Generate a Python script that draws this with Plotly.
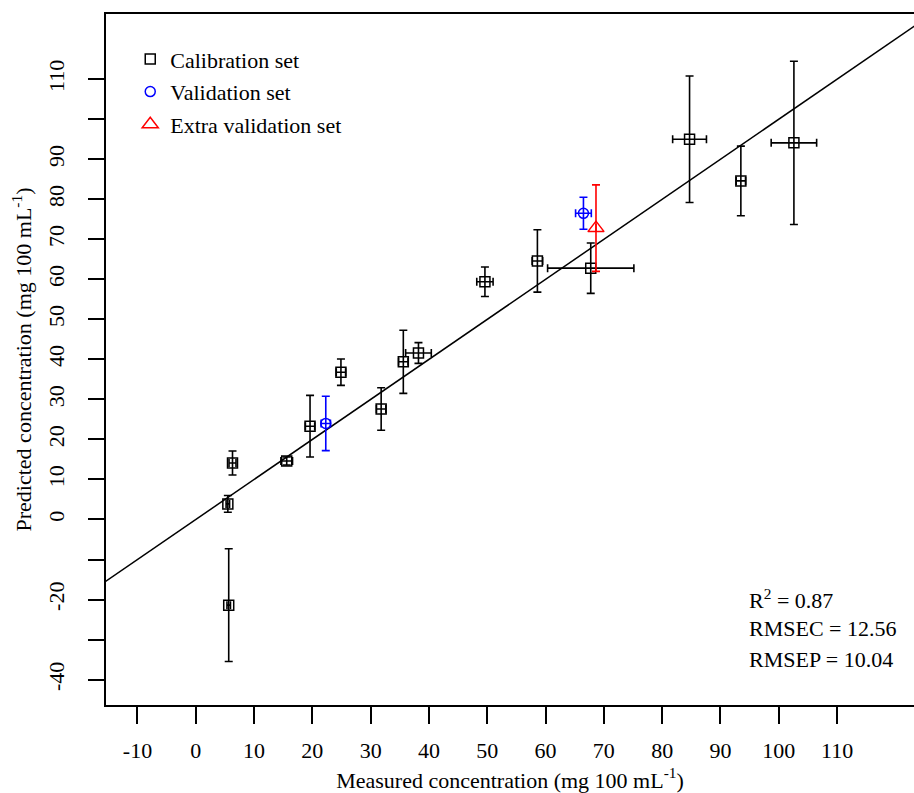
import plotly.graph_objects as go

# Calibration set
cal_x = [5.5, 6.3, 5.65, 15.6, 19.6, 24.9, 31.8, 35.6, 38.2, 49.6, 58.6, 67.75, 84.7, 93.5, 102.6]
cal_y = [3.9, 14.1, -21.4, 14.6, 23.3, 36.8, 27.6, 39.4, 41.6, 59.4, 64.6, 62.8, 95.0, 84.6, 94.1]
cal_yerr = [2.1, 3.0, 14.1, 1.0, 7.7, 3.3, 5.3, 7.9, 2.6, 3.7, 7.8, 6.3, 15.8, 8.7, 20.4]
cal_xerr = [0.3, 0.6, 0.3, 1.0, 0.8, 0.8, 0.8, 0.8, 2.2, 1.4, 0.9, 7.4, 2.9, 0.8, 3.9]

# Validation set
val_x = [22.3, 66.5]
val_y = [24.0, 76.5]
val_yerr = [6.8, 4.0]
val_xerr = [0.8, 1.35]

# Extra validation set
ext_x = [68.65]
ext_y = [72.8]
ext_yerr = [10.8]
ext_xerr = [0.0]

# 1:1 line
line_x = [-20, 130]
line_y = [-20, 130]

x_ticks = list(range(-10, 111, 10))
y_ticks = [-40, -20, 0, 10, 20, 30, 40, 50, 60, 70, 80, 90, 110]
y_minor_ticks = [-30, -10, 100]

stats_text = ["R<sup>2</sup> = 0.87", "RMSEC = 12.56", "RMSEP = 10.04"]

FONT = "Liberation Serif"
FS = 22

fig = go.Figure()

fig.add_trace(go.Scatter(
    x=line_x, y=line_y, mode="lines",
    line=dict(color="black", width=1.5), showlegend=False, hoverinfo="skip"))

fig.add_trace(go.Scatter(
    x=cal_x, y=cal_y, mode="markers", name="Calibration set", legendgroup="a",
    marker=dict(symbol="square-open", size=10, color="black", line=dict(width=1.5)),
    error_y=dict(type="data", array=cal_yerr, color="black", thickness=1.6, width=4),
    error_x=dict(type="data", array=cal_xerr, color="black", thickness=1.6, width=4)))

fig.add_trace(go.Scatter(
    x=val_x, y=val_y, mode="markers", name="Validation set", legendgroup="b",
    marker=dict(symbol="circle-open", size=10, color="blue", line=dict(width=1.5)),
    error_y=dict(type="data", array=val_yerr, color="blue", thickness=1.6, width=4),
    error_x=dict(type="data", array=val_xerr, color="blue", thickness=1.6, width=4)))

fig.add_trace(go.Scatter(
    x=ext_x, y=ext_y, mode="markers", name="Extra validation set", legendgroup="c",
    marker=dict(symbol="triangle-up-open", size=14, color="red", line=dict(width=1.5)),
    error_y=dict(type="data", array=ext_yerr, color="red", thickness=1.6, width=4),
    error_x=dict(type="data", array=ext_xerr, color="red", thickness=1.6, width=4)))

stat_y = [-19.8, -27.3, -34.9]
for t, yy in zip(stats_text, stat_y):
    fig.add_annotation(x=94.5, y=yy, xref="x", yref="y", text=t, showarrow=False,
                       xanchor="left", yanchor="middle",
                       font=dict(family=FONT, size=FS, color="black"))

fig.update_layout(
    width=914, height=793,
    margin=dict(l=106, r=0, t=14, b=88),
    paper_bgcolor="white", plot_bgcolor="white",
    font=dict(family=FONT, size=FS, color="black"),
    legend=dict(x=0.03, y=0.965, xanchor="left", yanchor="top",
                bgcolor="rgba(0,0,0,0)", tracegroupgap=1,
                font=dict(family=FONT, size=FS, color="black")),
    xaxis=dict(
        range=[-15.4, 123.2], showgrid=False, zeroline=False,
        showline=True, linecolor="black", linewidth=1.5, mirror=True,
        ticks="outside", ticklen=17, tickwidth=1.5, tickcolor="black",
        tickvals=x_ticks, ticktext=[str(v) for v in x_ticks],
        ticklabelstandoff=8,
        title=dict(text="Measured concentration (mg 100 mL<sup>-1</sup>)", standoff=10,
                   font=dict(family=FONT, size=FS))),
    yaxis=dict(
        range=[-46.35, 126.3], showgrid=False, zeroline=False,
        showline=True, linecolor="black", linewidth=1.5, mirror=False,
        ticks="outside", ticklen=16, tickwidth=1.5, tickcolor="black",
        tickvals=y_ticks, ticktext=[str(v) for v in y_ticks], tickangle=-90,
        minor=dict(tickmode="array", tickvals=y_minor_ticks, ticks="outside",
                   ticklen=16, tickwidth=1.5, tickcolor="black", showgrid=False),
        ticklabelstandoff=15,
        title=dict(text="Predicted concentration (mg 100 mL<sup>-1</sup>)", standoff=7,
                   font=dict(family=FONT, size=FS))),
)

fig.write_html(
    "out.html",
    config={"displayModeBar": False},
    post_script="document.body.style.margin='0';document.body.style.overflow='hidden';",
)
